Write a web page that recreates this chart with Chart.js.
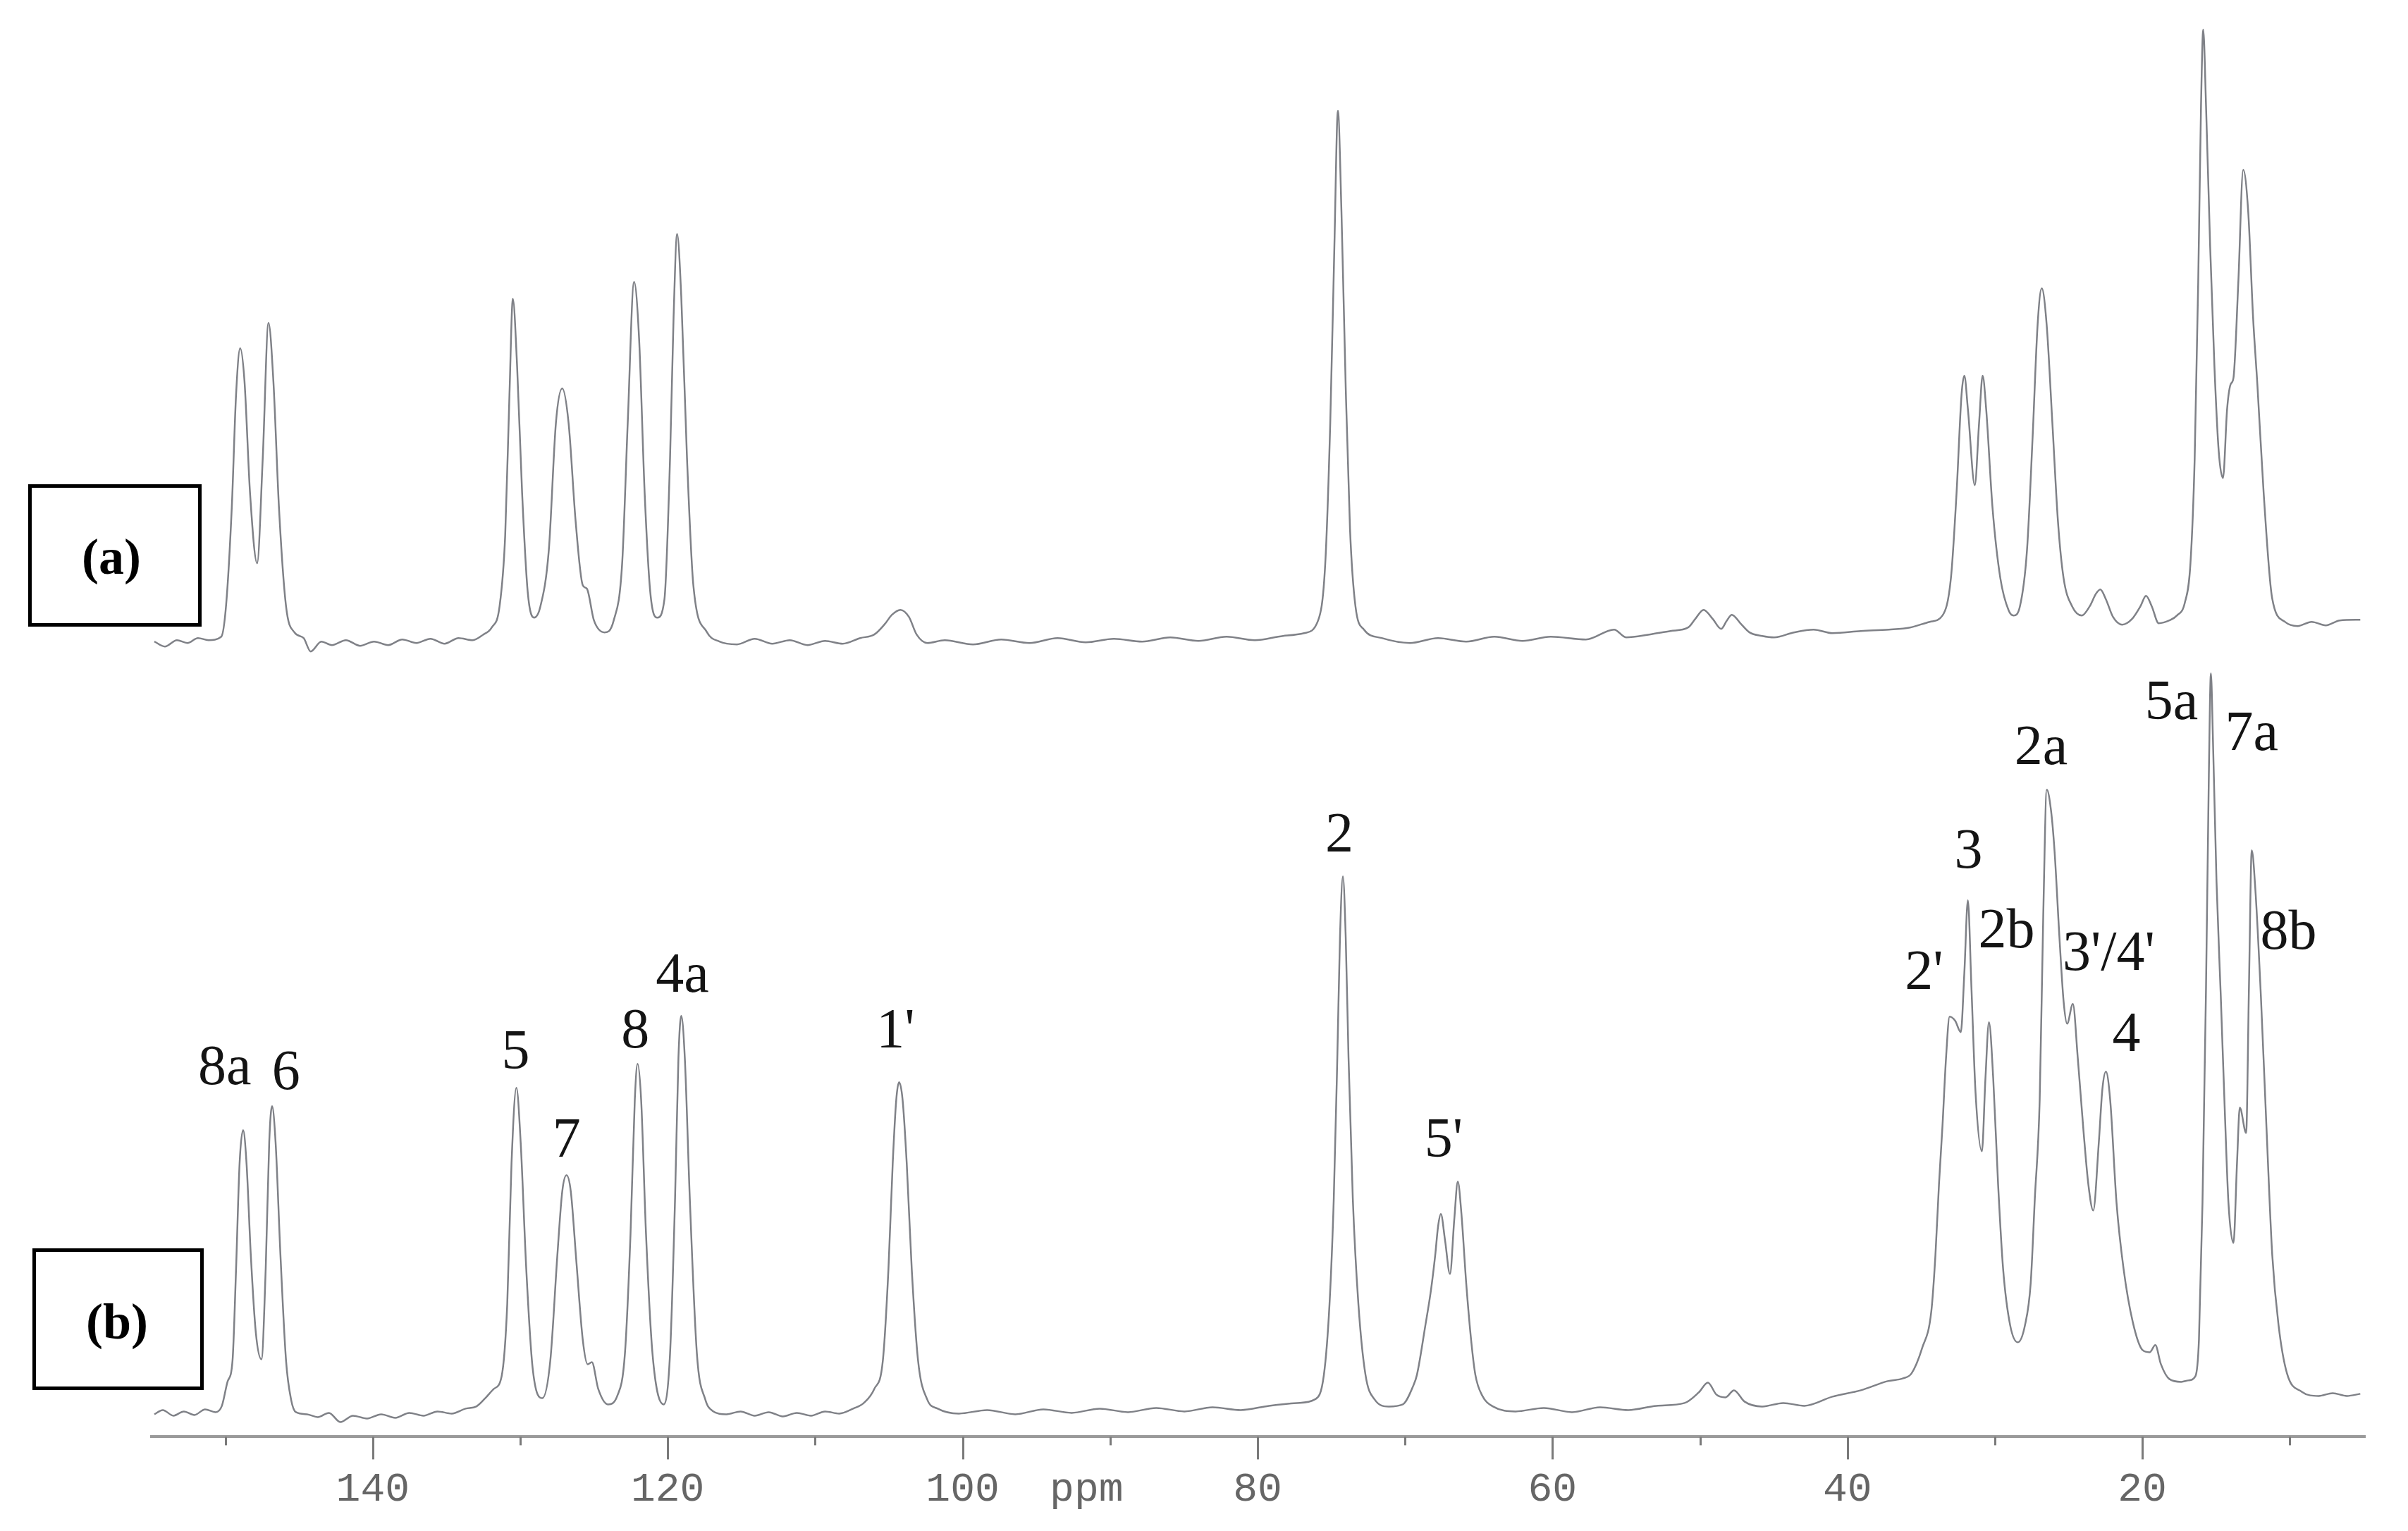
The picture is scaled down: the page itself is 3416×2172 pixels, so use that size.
<!DOCTYPE html>
<html>
<head>
<meta charset="utf-8">
<script src="https://cdn.jsdelivr.net/npm/chart.js@4.4.1/dist/chart.umd.min.js"></script>
<style>
  html, body { margin: 0; padding: 0; background: #ffffff; }
  canvas { display: block; }
</style>
</head>
<body>
<canvas id="nmrChart" width="3416" height="2172"></canvas>
<script>
// ===== spectrum (a): chemical shift (ppm) and intensity =====
const ppmA = [
  154.81,154.10,153.28,152.57,151.85,151.14,150.27,149.94,149.56,149.27,
  148.99,148.70,148.32,147.84,147.46,147.07,146.74,146.36,145.88,145.31,
  144.69,144.21,143.49,142.77,141.82,140.86,139.91,138.95,138.00,137.04,
  136.09,135.13,134.18,133.22,132.50,131.93,131.40,131.02,130.73,130.50,
  130.21,129.87,129.49,129.06,128.63,128.06,127.58,127.15,126.72,126.24,
  125.76,125.48,125.00,124.28,123.66,123.09,122.71,122.28,121.94,121.56,
  121.18,120.70,120.22,119.84,119.60,119.36,119.08,118.69,118.26,117.36,
  116.49,115.30,114.10,112.91,111.72,110.52,109.33,108.13,106.94,105.99,
  105.27,104.79,104.22,103.64,103.12,102.40,101.21,99.30,97.38,95.47,
  93.56,91.65,89.74,87.83,85.92,84.01,82.10,80.19,78.27,76.84,
  75.89,75.41,75.07,74.79,74.55,74.31,74.02,73.73,73.36,72.78,
  71.58,69.67,67.76,65.85,63.94,62.03,60.12,57.73,55.82,55.01,
  53.43,52.00,50.80,50.32,49.75,49.13,48.56,48.17,47.84,47.22,
  46.64,45.78,44.97,43.63,42.29,41.01,39.09,37.18,35.75,34.41,
  33.55,32.98,32.60,32.26,32.07,31.83,31.36,31.07,30.83,30.59,
  30.16,29.63,29.06,28.73,28.30,27.82,27.44,27.10,26.82,26.49,
  26.10,25.72,25.34,24.76,24.10,23.57,23.14,22.85,22.47,21.99,
  21.37,20.70,20.13,19.75,19.36,18.89,18.17,17.65,17.12,16.74,
  16.45,16.21,16.02,15.87,15.68,15.40,15.11,14.82,14.53,14.25,
  14.01,13.82,13.49,13.16,12.82,12.49,12.20,11.77,11.20,10.33,
  9.47,8.52,7.56,6.61,5.22
];
const intA = [
  -0.5,-1.2,-0.3,-0.7,0,-0.3,0.2,4.8,18.5,34.5,
  41.1,36.5,20.5,10.6,25.5,44.7,36.5,18.5,4.5,0.8,
  0,-1.9,-0.5,-1.0,-0.3,-1.1,-0.5,-1.0,-0.2,-0.7,
  -0.1,-0.8,0,-0.3,0.5,1.5,4.5,14.5,34.5,48.1,
  38.5,20.5,6.5,2.9,4.5,12.5,30.5,35.4,30.5,16.5,
  7.5,7.0,2.5,0.8,2.5,10.5,30.5,50.5,42.5,20.5,
  6.5,2.9,5.5,25.5,45.5,57.3,48.5,25.5,7.5,0.9,
  -0.5,-0.9,-0.1,-0.8,-0.3,-1.0,-0.4,-0.8,0,0.5,
  2.0,3.3,4.0,3.0,0.5,-0.7,-0.3,-0.9,-0.2,-0.7,
  0,-0.6,-0.1,-0.5,0.1,-0.4,0.2,-0.3,0.3,0.7,
  2.5,10.5,30.5,55.5,74.8,60.5,35.5,15.5,4.5,1.2,
  0,-0.7,0,-0.5,0.2,-0.4,0.2,-0.2,1.2,0.1,
  0.5,1.0,1.5,2.7,4.0,2.7,1.3,2.5,3.3,2.0,
  0.8,0.3,0.1,0.8,1.2,0.7,1.0,1.2,1.5,2.3,
  3.2,8.5,20.5,34.5,37.2,32.5,21.7,30.5,37.2,32.5,
  18.5,8.5,3.9,3.2,4.5,12.5,28.5,44.5,49.6,44.5,
  30.5,16.5,8.5,4.5,3.2,4.5,6.3,6.9,5.5,3.0,
  1.9,2.7,4.5,6.0,4.5,2.1,2.5,3.2,5.0,10.5,
  25.5,50.5,75.5,86.3,75.5,55.5,38.5,26.5,22.7,32.5,
  36.0,36.9,50.5,66.4,60.5,45.5,36.0,20.5,5.7,2.3,
  1.7,2.3,1.8,2.5,2.6
];

// ===== spectrum (b) =====
const ppmB = [
  154.81,154.24,153.52,152.81,152.09,151.37,150.66,150.23,149.85,149.51,
  149.27,149.03,148.79,148.56,148.27,147.93,147.55,147.26,147.02,146.83,
  146.59,146.26,145.88,145.54,145.21,144.45,143.73,142.97,142.20,141.34,
  140.39,139.43,138.47,137.52,136.56,135.61,134.65,133.70,132.98,132.36,
  131.79,131.26,130.88,130.59,130.26,129.97,129.59,129.16,128.49,127.96,
  127.48,127.15,126.86,126.57,126.19,125.76,125.43,125.14,124.71,124.05,
  123.42,122.90,122.52,122.23,122.04,121.80,121.47,121.03,120.27,119.84,
  119.50,119.27,119.08,118.84,118.50,118.02,117.45,116.97,116.02,115.06,
  114.10,113.15,112.19,111.24,110.28,109.33,108.37,107.42,106.70,105.99,
  105.41,105.03,104.74,104.50,104.31,104.07,103.79,103.45,103.02,102.40,
  101.69,100.25,98.34,96.43,94.52,92.61,90.70,88.79,86.87,84.96,
  83.05,81.14,79.23,77.32,76.12,75.50,75.12,74.83,74.59,74.41,
  74.21,74.02,73.83,73.54,73.16,72.68,72.06,71.10,70.15,69.43,
  69.19,68.62,68.24,67.95,67.76,67.57,67.28,66.95,66.66,66.42,
  66.18,65.85,65.52,65.23,64.75,64.03,62.50,60.59,58.68,56.77,
  54.86,52.95,51.04,50.08,49.46,48.89,48.27,47.69,46.98,45.78,
  44.35,42.92,41.01,39.09,37.27,36.22,35.65,34.93,34.31,34.03,
  33.79,33.55,33.31,33.07,32.69,32.31,32.07,31.83,31.59,31.31,
  30.88,30.64,30.40,30.11,29.78,29.44,28.96,28.44,27.96,27.57,
  27.29,26.96,26.72,26.48,26.19,25.95,25.62,25.34,25.10,24.71,
  24.38,23.99,23.66,23.33,22.95,22.71,22.47,22.18,21.75,21.27,
  20.65,19.98,19.50,19.12,18.74,18.17,17.36,16.88,16.40,16.16,
  15.92,15.68,15.49,15.35,15.21,14.97,14.68,14.40,14.16,13.82,
  13.58,13.39,12.96,12.77,12.58,12.34,11.96,11.58,11.19,10.76,
  10.19,9.19,8.04,7.09,6.13,5.22
];
const intB = [
  -0.6,0,-0.8,-0.2,-0.7,0.1,-0.3,0.6,4.0,7.0,
  20,35,39.7,35,22,11,7.2,20,38,43.1,
  38,22,7,1.5,-0.3,-0.6,-1.0,-0.4,-1.7,-0.8,
  -1.2,-0.6,-1.1,-0.4,-0.8,-0.2,-0.5,0.2,0.5,1.7,
  3.0,4.8,15,35,45.7,38,20,6,1.7,7,
  22,31,33.3,31,21,10,6.5,6.8,3,0.8,
  2,8,25,44,49.1,44,25,8,0.8,8,
  30,50,55.9,50,30,8,1.5,-0.1,-0.6,-0.2,
  -0.8,-0.3,-0.9,-0.4,-0.8,-0.2,-0.5,0.2,1.0,3,
  7,20,35,44,46.5,44,35,20,7,1.5,
  0.2,-0.5,0,-0.6,0.1,-0.4,0.2,-0.3,0.3,-0.2,
  0.4,0,0.6,1.0,1.5,5,15,30,50,67,
  75.7,67,50,30,15,5,1.5,0.5,0.8,3.5,
  5,12,17,22,26,27.8,24,19.3,27,32.4,
  28,18,10,5,2,0.5,-0.2,0.3,-0.3,0.4,
  0,0.6,1.0,2.5,3.9,2.2,1.8,2.8,1.2,0.5,
  1.0,0.6,1.9,2.8,4.1,4.5,5.2,8.8,14,22,
  32,40.4,50,55.8,55.2,53.6,62,72.3,60,45,
  36.7,47,55,47,32,20,12,9.6,12,18,
  30,44,70,88,85,79.2,67,58,54.8,57.6,
  50,39.6,32,28.3,38,45.5,48,44,29.4,20,
  12.5,8.5,8.2,9.2,6.5,4.4,4.0,4.2,4.8,10,
  29.4,60,90,104.5,95,75,58.7,42,29.4,23.7,
  35,42.9,39.3,60,79.4,74,58.7,40,22,12,
  5.2,2.6,2.0,2.4,2.0,2.3
];

// ===== peak assignments for (b) =====
const peakText = ['8a', '6', '5', '7', '8', '4a', "1'", '2', "5'", "2'", '3', '2b', '2a', "3'/4'", '4', '5a', '7a', '8b'];
const peakPpm  = [150.04, 145.88, 130.31, 126.86, 122.2, 119.0, 104.55, 74.45, 67.38, 34.8, 31.79, 29.21, 26.87, 22.28, 21.08, 18.02, 12.58, 10.09];
const peakInt  = [48.3, 47.6, 50.5, 38, 53.5, 61.4, 53.5, 81.3, 38, 61.8, 79, 67.7, 93.7, 64.5, 53, 100.1, 95.7, 67.5];

// ===== axis ticks =====
const tickValues = [150, 140, 130, 120, 110, 100, 90, 80, 70, 60, 50, 40, 30, 20, 10];
const majorLabels = [140, 120, 100, 80, 60, 40, 20];
const unitPpm = 91.6; // where the "ppm" unit sits, just right of 100

const tickSize = 58;
const tickLen = 32;
const tickPad = 8;

// ticks, unit label, peak labels, (a)/(b) boxes
const decorPlugin = {
  id: 'decor',
  afterDraw(chart) {
    const { ctx, chartArea } = chart;
    const x = chart.scales.x;
    const yB = chart.scales.yB;
    ctx.save();

    // tick marks under the axis line, long every 20 ppm
    ctx.strokeStyle = '#7a7a7a';
    ctx.lineWidth = 3;
    tickValues.forEach(v => {
      const px = Math.round(x.getPixelForValue(v)) + 0.5;
      const len = v % 20 === 0 ? tickLen : 12;
      ctx.beginPath();
      ctx.moveTo(px, chartArea.bottom);
      ctx.lineTo(px, chartArea.bottom + len);
      ctx.stroke();
    });

    // unit next to the 100 label, on the tick-label line
    ctx.fillStyle = '#666666';
    ctx.font = tickSize + 'px "Liberation Mono", "DejaVu Sans Mono", monospace';
    ctx.textAlign = 'center';
    ctx.textBaseline = 'middle';
    ctx.fillText('ppm', x.getPixelForValue(unitPpm), chartArea.bottom + tickLen + tickPad + tickSize * 0.6);

    // peak assignments
    ctx.fillStyle = '#141414';
    ctx.font = '80px "Liberation Serif", "Times New Roman", serif';
    peakText.forEach((t, i) => {
      ctx.fillText(t, x.getPixelForValue(peakPpm[i]), yB.getPixelForValue(peakInt[i]));
    });

    // (a) and (b) boxes
    ctx.strokeStyle = '#000000';
    ctx.lineWidth = 5;
    ctx.strokeRect(42.5, 689.5, 241, 197);
    ctx.strokeRect(48.5, 1773.5, 238, 196);
    ctx.font = 'bold 72px "Liberation Serif", serif';
    ctx.fillStyle = '#000000';
    ctx.fillText('(a)', 158, 795);
    ctx.fillText('(b)', 166, 1880);

    ctx.restore();
  }
};

const ctx = document.getElementById('nmrChart').getContext('2d');
new Chart(ctx, {
  type: 'line',
  data: {
    datasets: [
      {
        label: '(a)',
        data: ppmA.map((v, i) => ({ x: v, y: intA[i] })),
        yAxisID: 'yA',
        borderColor: '#7f8187',
        borderWidth: 2.5
      },
      {
        label: '(b)',
        data: ppmB.map((v, i) => ({ x: v, y: intB[i] })),
        yAxisID: 'yB',
        borderColor: '#7f8187',
        borderWidth: 2.5
      }
    ]
  },
  options: {
    responsive: false,
    animation: false,
    layout: { padding: { left: 215, right: 61, top: 20, bottom: 16 } },
    elements: {
      point: { radius: 0 },
      line: { cubicInterpolationMode: 'monotone', fill: false }
    },
    plugins: {
      legend: { display: false },
      tooltip: { enabled: false }
    },
    scales: {
      x: {
        type: 'linear',
        reverse: true,
        min: 4.9,
        max: 155,
        afterBuildTicks: scale => {
          scale.ticks = tickValues.map(v => ({ value: v }));
        },
        ticks: {
          autoSkip: false,
          maxRotation: 0,
          padding: tickPad,
          color: '#666666',
          font: { family: '"Liberation Mono", "DejaVu Sans Mono", monospace', size: tickSize },
          callback: v => (majorLabels.includes(v) ? String(v) : '')
        },
        grid: { display: false, drawTicks: true, tickLength: tickLen },
        border: { display: true, color: '#9a9a9a', width: 4 }
      },
      yA: { display: false, min: -113.3, max: 88.5 },
      yB: { display: false, min: -3.8, max: 198 }
    }
  },
  plugins: [decorPlugin]
});
</script>
</body>
</html>
